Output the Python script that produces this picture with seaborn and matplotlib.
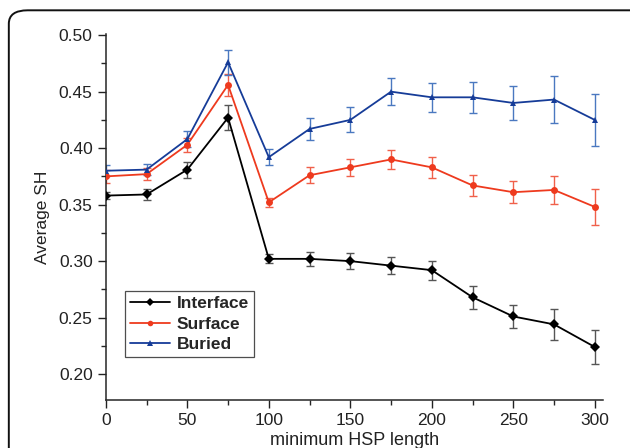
import pandas as pd
import matplotlib.pyplot as plt
import seaborn as sns
from matplotlib.patches import FancyBboxPatch
from matplotlib.ticker import MultipleLocator

hsp_length = [0, 25, 50, 75, 100, 125, 150, 175, 200, 225, 250, 275, 300]

interface = [0.358, 0.359, 0.381, 0.427, 0.302, 0.302, 0.300, 0.296, 0.292, 0.268, 0.251, 0.244, 0.224]
interface_err = [0.003, 0.005, 0.007, 0.011, 0.004, 0.0065, 0.007, 0.0075, 0.0085, 0.010, 0.010, 0.0135, 0.015]

surface = [0.375, 0.377, 0.403, 0.456, 0.352, 0.376, 0.383, 0.390, 0.383, 0.367, 0.361, 0.363, 0.348]
surface_err = [0.006, 0.005, 0.006, 0.010, 0.004, 0.007, 0.0075, 0.0085, 0.009, 0.009, 0.010, 0.0127, 0.016]

buried = [0.380, 0.381, 0.408, 0.476, 0.392, 0.417, 0.425, 0.450, 0.445, 0.445, 0.440, 0.443, 0.425]
buried_err = [0.005, 0.005, 0.007, 0.011, 0.007, 0.010, 0.011, 0.012, 0.0127, 0.0136, 0.015, 0.0205, 0.023]

series = ['Interface', 'Surface', 'Buried']
colors = {'Interface': '#000000', 'Surface': '#ee3a1e', 'Buried': '#163c98'}
bar_colors = {'Interface': '#555555', 'Surface': '#f0604a', 'Buried': '#4a78c0'}
markers = {'Interface': 'D', 'Surface': 'o', 'Buried': '^'}
msizes = {'Interface': 3.5, 'Surface': 4, 'Buried': 6}

data = pd.DataFrame({
    'length': hsp_length * 3,
    'SH': interface + surface + buried,
    'err': interface_err + surface_err + buried_err,
    'group': [s for s in series for _ in hsp_length],
})

sns.set_style('ticks')
plt.rcParams['font.family'] = ['Liberation Sans', 'DejaVu Sans']

fig = plt.figure(figsize=(6.3, 4.48), dpi=100)
ax = fig.add_axes([0.168, 0.107, 0.789, 0.817])

# frame round the whole figure
frame = FancyBboxPatch((0.014, -0.05), 1.1, 1.027, boxstyle='round,pad=0,rounding_size=0.03',
                       transform=fig.transFigure, fill=False, edgecolor='#111111', lw=1.4,
                       clip_on=False)
fig.patches.append(frame)

for g in series:
    d = data[data['group'] == g]
    ax.errorbar(d['length'], d['SH'], yerr=d['err'], fmt='none', ecolor=bar_colors[g],
                elinewidth=1.0, capsize=3, capthick=1.0, zorder=2)

sns.lineplot(data=data, x='length', y='SH', hue='group', style='group',
             palette=colors, markers=markers, dashes=False, lw=1.3,
             markersize=5, markeredgewidth=0, ax=ax, zorder=3)

for line, g in zip(ax.lines[-3:], series):
    line.set_markersize(msizes[g])

ax.set_xlim(0, 305)
ax.set_ylim(0.177, 0.501)
ax.xaxis.set_major_locator(MultipleLocator(50))
ax.xaxis.set_minor_locator(MultipleLocator(25))
ax.yaxis.set_major_locator(MultipleLocator(0.05))
ax.yaxis.set_minor_locator(MultipleLocator(0.025))
ax.yaxis.set_major_formatter(plt.FormatStrFormatter('%.2f'))
ax.tick_params(which='major', length=6, width=1, labelsize=12.5, colors='#222222')
ax.tick_params(which='minor', length=3.5, width=1)
sns.despine(ax=ax)
for sp in ax.spines.values():
    sp.set_linewidth(1.1)

ax.set_xlabel('minimum HSP length', fontsize=13, labelpad=3, color='#222222')
ax.set_ylabel('Average SH', fontsize=12.5, labelpad=6, color='#222222')

leg = ax.legend(loc='lower left', bbox_to_anchor=(0.038, 0.117), borderaxespad=0,
                frameon=True, fancybox=False,
                prop={'weight': 'bold', 'size': 12.5}, handlelength=2.3, borderpad=0.3,
                labelspacing=0.3, handletextpad=0.4)
leg.get_frame().set_edgecolor('#222222')
leg.get_frame().set_linewidth(0.9)
for h in leg.legend_handles:
    h.set_markersize(4)

fig.savefig('out.png', dpi=100)
